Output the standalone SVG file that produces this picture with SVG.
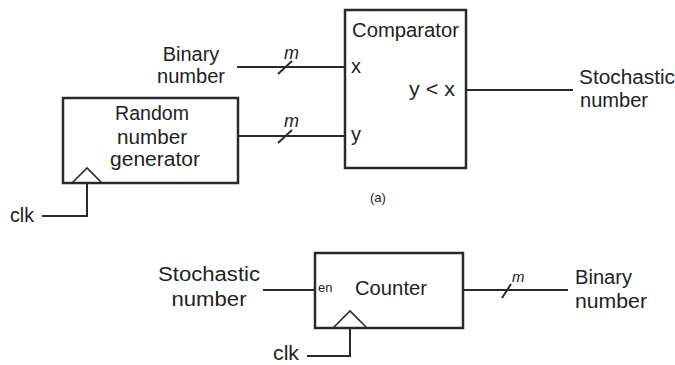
<svg xmlns="http://www.w3.org/2000/svg" width="675" height="365" viewBox="0 0 675 365">
  <style>
    .box { fill: #fff; stroke: #2a2a2a; stroke-width: 2.5; }
    .wire { fill: none; stroke: #2a2a2a; stroke-width: 2; }
    .clk { fill: none; stroke: #2a2a2a; stroke-width: 1.6; }
    text { font-family: "Liberation Sans", Arial, sans-serif; fill: #222; }
    .lbl { font-size: 20px; }
    .mid { text-anchor: middle; }
    .bus { font-size: 18px; font-style: italic; }
    .small { font-size: 13px; }
  </style>
  <rect width="675" height="365" fill="#fff"/>

  <!-- wires and bus slashes -->
  <g id="connectors">
    <path class="wire" d="M237 67 H345"/>
    <path class="wire" d="M278 74 L292 61"/>
    <path class="wire" d="M239 136 H345"/>
    <path class="wire" d="M278 143 L292 130"/>
    <path class="wire" d="M466 90 H573"/>
    <path class="wire" d="M42 216 H87 V183"/>
    <path class="wire" d="M263 290 H315"/>
    <path class="wire" d="M463 290 H568"/>
    <path class="wire" d="M502 298 L511 284"/>
    <path class="wire" d="M307 356 H350 V328"/>
  </g>

  <!-- comparator -->
  <g id="comparator">
    <rect class="box" x="345" y="10" width="121" height="158"/>
    <text class="lbl" x="352" y="37" textLength="107" lengthAdjust="spacingAndGlyphs">Comparator</text>
    <text class="lbl" x="351" y="73">x</text>
    <text class="lbl" x="351" y="141">y</text>
    <text class="lbl" x="409" y="96" textLength="46" lengthAdjust="spacingAndGlyphs">y &lt; x</text>
  </g>

  <!-- random number generator -->
  <g id="rng">
    <rect class="box" x="63" y="98" width="175" height="85"/>
    <path class="clk" d="M72 183 L87 168 L102 183"/>
    <text class="lbl mid" x="152" y="120" textLength="74" lengthAdjust="spacingAndGlyphs">Random</text>
    <text class="lbl mid" x="152" y="144" textLength="70" lengthAdjust="spacingAndGlyphs">number</text>
    <text class="lbl mid" x="155" y="166" textLength="90" lengthAdjust="spacingAndGlyphs">generator</text>
  </g>

  <!-- counter -->
  <g id="counter">
    <rect class="box" x="315" y="253" width="148" height="75"/>
    <path class="clk" d="M333 328 L350 311 L367 328"/>
    <text class="small" x="318" y="292">en</text>
    <text class="lbl" x="355" y="295" textLength="72" lengthAdjust="spacingAndGlyphs">Counter</text>
  </g>

  <!-- labels -->
  <g id="in-binary">
    <text class="lbl mid" x="191" y="61">Binary</text>
    <text class="lbl mid" x="191" y="83" textLength="68" lengthAdjust="spacingAndGlyphs">number</text>
    <text class="bus" x="284" y="59">m</text>
    <text class="bus" x="284" y="127">m</text>
  </g>
  <g id="out-stochastic">
    <text class="lbl" x="579" y="84" textLength="96" lengthAdjust="spacingAndGlyphs">Stochastic</text>
    <text class="lbl" x="580" y="107" textLength="68" lengthAdjust="spacingAndGlyphs">number</text>
  </g>
  <g id="clk-a">
    <text class="lbl" x="10" y="222" textLength="24" lengthAdjust="spacingAndGlyphs">clk</text>
  </g>
  <g id="caption-a">
    <text class="small" x="370" y="202">(a)</text>
  </g>
  <g id="in-stochastic">
    <text class="lbl mid" x="209" y="281" textLength="102" lengthAdjust="spacingAndGlyphs">Stochastic</text>
    <text class="lbl mid" x="209" y="306" textLength="75" lengthAdjust="spacingAndGlyphs">number</text>
  </g>
  <g id="out-binary">
    <text class="bus" x="512" y="282" style="font-size:15px">m</text>
    <text class="lbl" x="575" y="284" textLength="57" lengthAdjust="spacingAndGlyphs">Binary</text>
    <text class="lbl" x="575" y="308" textLength="72" lengthAdjust="spacingAndGlyphs">number</text>
  </g>
  <g id="clk-b">
    <text class="lbl" x="273" y="360" textLength="26" lengthAdjust="spacingAndGlyphs">clk</text>
  </g>
</svg>
